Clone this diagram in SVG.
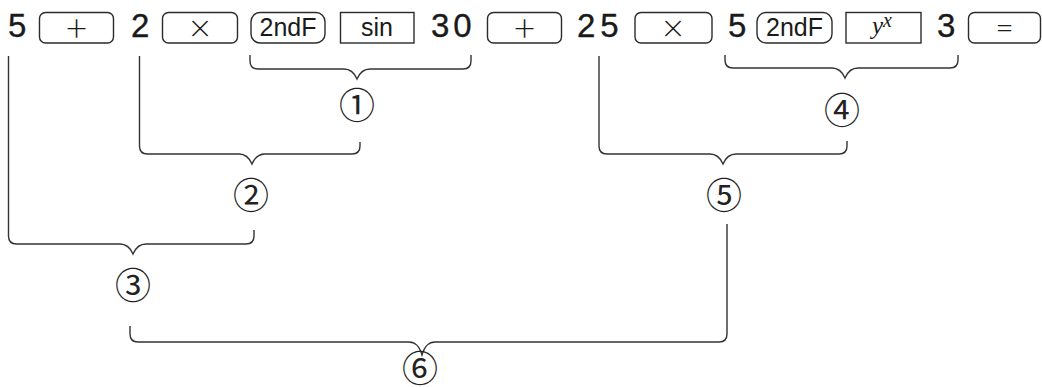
<svg xmlns="http://www.w3.org/2000/svg" width="1042" height="387" viewBox="0 0 1042 387">
<style>
.key{fill:#fff;stroke:#2b2b2b;stroke-width:1.4}
.num{font-family:"Liberation Sans",Arial,sans-serif;font-size:33px;fill:#1a1a1a;stroke:#1a1a1a;stroke-width:0.35}
.lbl{font-family:"Liberation Sans",Arial,sans-serif;fill:#1a1a1a;text-anchor:middle}
.sym{font-family:Lato,"Liberation Sans",sans-serif;font-weight:300;fill:#1a1a1a;text-anchor:middle}
.brace{fill:none;stroke:#333;stroke-width:1.4}
.circ{font-family:"Noto Sans CJK JP","DejaVu Sans",sans-serif;font-size:36px;fill:#222;text-anchor:middle;dominant-baseline:central}
</style>
<rect width="1042" height="387" fill="#fff"/>
<g id="n5a"><text class="num" x="8" y="37">5</text></g>
<g id="kplus1"><rect class="key" x="39.5" y="12.5" width="74" height="30.5" rx="6"/><text class="sym" x="76.5" y="40.5" font-size="38">+</text></g>
<g id="n2"><text class="num" x="131" y="37">2</text></g>
<g id="ktimes1"><rect class="key" x="162.5" y="12.5" width="75" height="30.5" rx="6"/><text class="sym" x="200" y="40.5" font-size="38">×</text></g>
<g id="k2ndf1"><rect class="key" x="251" y="12.5" width="74" height="30.5" rx="9"/><text class="lbl" x="288" y="35.5" font-size="25">2ndF</text></g>
<g id="ksin"><rect class="key" x="340.5" y="12.5" width="73.5" height="30.5"/><text class="lbl" x="377" y="35.5" font-size="25">sin</text></g>
<g id="n30"><text class="num" x="431" y="37" letter-spacing="4">30</text></g>
<g id="kplus2"><rect class="key" x="487.5" y="12.5" width="74" height="30.5" rx="6"/><text class="sym" x="524.5" y="40.5" font-size="38">+</text></g>
<g id="n25"><text class="num" x="577" y="37" letter-spacing="5">25</text></g>
<g id="ktimes2"><rect class="key" x="635" y="12.5" width="77" height="30.5" rx="6"/><text class="sym" x="673" y="40.5" font-size="38">×</text></g>
<g id="n5b"><text class="num" x="728" y="37">5</text></g>
<g id="k2ndf2"><rect class="key" x="757" y="12.5" width="75" height="30.5" rx="9"/><text class="lbl" x="794.5" y="35.5" font-size="25">2ndF</text></g>
<g id="kyx"><rect class="key" x="846" y="12.5" width="75" height="30.5"/><text x="872" y="34" font-family="'Liberation Serif',serif" font-style="italic" font-size="25" fill="#1a1a1a">y<tspan font-size="20" dy="-7">x</tspan></text></g>
<g id="n3"><text class="num" x="937" y="37">3</text></g>
<g id="keq"><rect class="key" x="968.5" y="12.5" width="72" height="30.5" rx="6"/><text class="sym" x="1004.5" y="39" font-size="32">=</text></g>
<g id="connectors">
<path class="brace" d="M250,55 V61 Q250,69 258,69 H344 C350,69 354,72 357,79 C360,72 364,69 370,69 H463 Q471,69 471,61 V55"/>
<path class="brace" d="M139.5,56 V146 Q139.5,154 147.5,154 H239 C245,154 249,157 252,164 C255,157 259,154 265,154 H352 Q360,154 360,146 V142"/>
<path class="brace" d="M8.5,56 V236 Q8.5,244 16.5,244 H120 C126,244 130,247 133,254 C136,247 140,244 146,244 H246 Q254,244 254,236 V230"/>
<path class="brace" d="M725,55 V60 Q725,68 733,68 H832 C838,68 842,71 845,78 C848,71 852,68 858,68 H950 Q958,68 958,60 V55"/>
<path class="brace" d="M599,56 V146 Q599,154 607,154 H710 C716,154 720,157 723,164 C726,157 730,154 736,154 H839 Q847,154 847,146 V141"/>
<path class="brace" d="M130,326 V334 Q130,342 138,342 H409 C415,342 419,345 422,355 C425,345 429,342 435,342 H719 Q727,342 727,334 V224"/>
</g>
<g id="c1"><text class="circ" x="357" y="103">①</text></g>
<g id="c2"><text class="circ" x="251" y="193">②</text></g>
<g id="c3"><text class="circ" x="133" y="283">③</text></g>
<g id="c4"><text class="circ" x="842" y="108">④</text></g>
<g id="c5"><text class="circ" x="724" y="193">⑤</text></g>
<g id="c6"><text class="circ" x="420" y="366">⑥</text></g>
</svg>
